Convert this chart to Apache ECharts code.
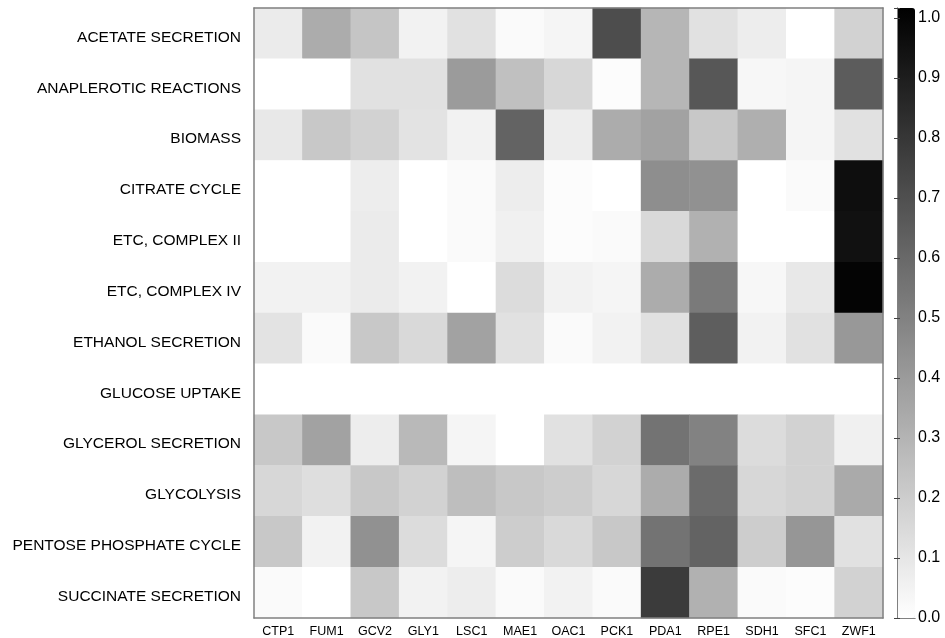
<!DOCTYPE html>
<html><head><meta charset="utf-8">
<script src="https://cdn.jsdelivr.net/npm/echarts@6/dist/echarts.min.js"></script>
<style>html,body{margin:0;padding:0;background:#fff}#c{width:945px;height:638px}</style>
</head><body><div id="c"></div>
<script>
const genes = ['CTP1','FUM1','GCV2','GLY1','LSC1','MAE1','OAC1','PCK1','PDA1','RPE1','SDH1','SFC1','ZWF1'];
const pathways = ['ACETATE SECRETION','ANAPLEROTIC REACTIONS','BIOMASS','CITRATE CYCLE','ETC, COMPLEX II','ETC, COMPLEX IV','ETHANOL SECRETION','GLUCOSE UPTAKE','GLYCEROL SECRETION','GLYCOLYSIS','PENTOSE PHOSPHATE CYCLE','SUCCINATE SECRETION'];
const acetate     = [0.08,0.33,0.23,0.05,0.12,0.02,0.04,0.71,0.29,0.12,0.07,0.00,0.18];
const anaplerotic = [0.00,0.00,0.12,0.12,0.40,0.25,0.16,0.01,0.29,0.67,0.03,0.04,0.65];
const biomass     = [0.09,0.22,0.18,0.11,0.05,0.62,0.07,0.33,0.37,0.22,0.32,0.04,0.12];
const citrate     = [0.00,0.00,0.07,0.00,0.02,0.07,0.01,0.00,0.45,0.44,0.00,0.02,0.96];
const etc2        = [0.00,0.00,0.08,0.00,0.02,0.06,0.01,0.02,0.15,0.31,0.00,0.00,0.95];
const etc4        = [0.05,0.05,0.08,0.05,0.00,0.14,0.05,0.04,0.33,0.53,0.03,0.09,1.00];
const ethanol     = [0.11,0.02,0.22,0.15,0.37,0.12,0.02,0.05,0.12,0.64,0.05,0.12,0.41];
const glucose     = [0,0,0,0,0,0,0,0,0,0,0,0,0];
const glycerol    = [0.22,0.37,0.07,0.28,0.04,0.00,0.12,0.18,0.56,0.50,0.14,0.18,0.06];
const glycolysis  = [0.16,0.13,0.22,0.18,0.26,0.22,0.20,0.16,0.33,0.59,0.16,0.18,0.34];
const pentose     = [0.22,0.05,0.44,0.14,0.04,0.20,0.15,0.22,0.56,0.62,0.20,0.42,0.12];
const succinate   = [0.02,0.00,0.22,0.05,0.07,0.02,0.05,0.02,0.78,0.31,0.02,0.01,0.18];
const rows = [acetate,anaplerotic,biomass,citrate,etc2,etc4,ethanol,glucose,glycerol,glycolysis,pentose,succinate];
const cbarMax = 1.0167;

const data = [];
rows.forEach((r, yi) => r.forEach((v, xi) => data.push([xi, yi, v])));

const font = 'Liberation Sans, Arial, sans-serif';
const frame = '#808080';
const chart = echarts.init(document.getElementById('c'), null, {renderer: 'canvas'});
chart.setOption({
  animation: false,
  backgroundColor: '#fff',
  grid: [
    {left: 254, top: 8, width: 629, height: 610},
    {left: 897, top: 8, width: 18, height: 610}
  ],
  xAxis: [
    {type: 'category', data: genes, gridIndex: 0, position: 'bottom', z: 20,
     axisLine: {lineStyle: {color: frame, width: 1.5}},
     axisTick: {inside: true, alignWithLabel: true, length: 5, lineStyle: {color: '#555'}},
     axisLabel: {color: '#000', fontFamily: font, fontSize: 12.5, margin: 7},
     splitLine: {show: false}},
    {type: 'category', data: genes, gridIndex: 0, position: 'top', z: 20,
     axisLine: {lineStyle: {color: frame, width: 1.5}},
     axisTick: {inside: true, alignWithLabel: true, length: 5, lineStyle: {color: '#555'}},
     axisLabel: {show: false}},
    {type: 'value', gridIndex: 1, position: 'bottom', min: 0, max: 1, z: 20,
     axisLine: {show: true, lineStyle: {color: frame, width: 1}},
     axisTick: {show: false}, axisLabel: {show: false}, splitLine: {show: false}},
    {type: 'value', gridIndex: 1, position: 'top', min: 0, max: 1, z: 20,
     axisLine: {show: true, lineStyle: {color: frame, width: 1}},
     axisTick: {show: false}, axisLabel: {show: false}, splitLine: {show: false}}
  ],
  yAxis: [
    {type: 'category', data: pathways, gridIndex: 0, inverse: true, position: 'left', z: 20,
     axisLine: {lineStyle: {color: frame, width: 1.5}},
     axisTick: {inside: true, alignWithLabel: true, length: 5, lineStyle: {color: '#555'}},
     axisLabel: {color: '#000', fontFamily: font, fontSize: 15.5, margin: 13,
       formatter: v => '{l|' + v + '}',
       rich: {l: {color: '#000', fontFamily: font, fontSize: 15.5, padding: [8, 0, 0, 0]}}}},
    {type: 'category', data: pathways, gridIndex: 0, inverse: true, position: 'right', z: 20,
     axisLine: {lineStyle: {color: frame, width: 1.5}},
     axisTick: {inside: true, alignWithLabel: true, length: 5, lineStyle: {color: '#555'}},
     axisLabel: {show: false}},
    {type: 'value', gridIndex: 1, position: 'right', min: 0, max: cbarMax, interval: 0.1, z: 20,
     axisLine: {show: true, lineStyle: {color: frame, width: 1}},
     axisTick: {show: true, inside: true, length: 3, lineStyle: {color: '#444'}},
     splitLine: {show: false},
     axisLabel: {color: '#000', fontFamily: font, fontSize: 16, margin: 3,
       formatter: v => v > 1.001 ? '' : v.toFixed(1)}},
    {type: 'value', gridIndex: 1, position: 'left', min: 0, max: cbarMax, interval: 0.1, z: 20,
     axisLine: {show: true, lineStyle: {color: frame, width: 1}},
     axisTick: {show: true, inside: true, length: 3, lineStyle: {color: '#444'}},
     axisLabel: {show: false}, splitLine: {show: false}}
  ],
  visualMap: {
    type: 'continuous', min: 0, max: cbarMax, calculable: false, show: true,
    seriesIndex: 0, orient: 'vertical', left: 897, top: 8, padding: 0,
    itemWidth: 18, itemHeight: 610, text: ['', ''], showLabel: false, z: 0,
    inRange: {color: ['#ffffff', '#000000']}
  },
  series: [{
    type: 'heatmap', xAxisIndex: 0, yAxisIndex: 0, data: data,
    itemStyle: {borderWidth: 0}, emphasis: {disabled: true}
  }]
});
</script></body></html>
